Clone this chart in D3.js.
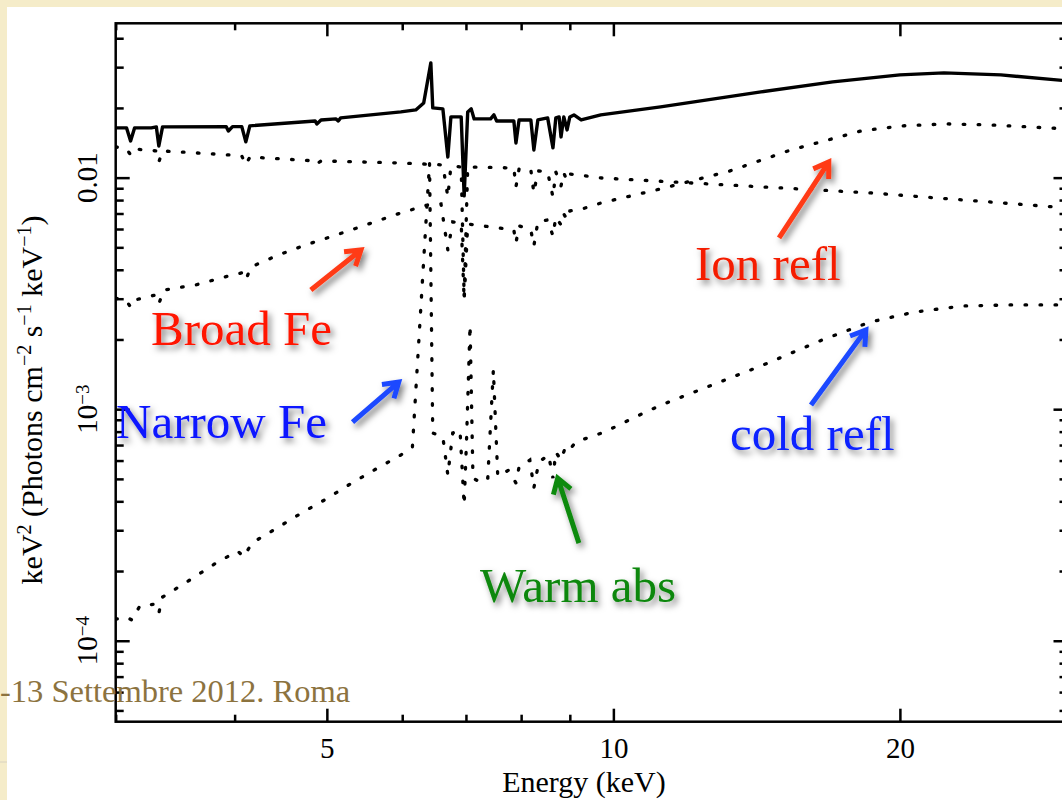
<!DOCTYPE html>
<html>
<head>
<meta charset="utf-8">
<script src="https://cdn.jsdelivr.net/npm/d3@7"></script>
<style>
body { margin: 0; background: #f5ecc9; }
svg { display: block; font-family: "Liberation Serif", "Times New Roman", serif; }
</style>
</head>
<body>
<div id="chart"></div>
<script>
// model components, [energy keV, keV^2 photons cm^-2 s^-1 keV^-1]
const totalModel = [[3.00,0.0164],[3.08,0.0164],[3.11,0.0144],[3.14,0.0164],[3.27,0.0164],[3.31,0.01656],[3.33,0.0137],[3.36,0.01656],
  [3.92,0.0166],[3.94,0.0159],[3.98,0.0166],[4.07,0.0166],[4.11,0.01427],[4.15,0.01673],[4.86,0.01757],[4.88,0.01706],[4.93,0.01775],
  [5.11,0.01793],[5.14,0.01757],[5.17,0.01811],[5.98,0.01922],[6.20,0.01961],[6.32,0.02102],[6.43,0.0313],[6.46,0.0200],[6.62,0.01981],
  [6.70,0.01228],[6.75,0.01829],[6.92,0.01829],[6.97,0.00834],[7.03,0.01922],[7.09,0.01981],[7.14,0.01793],[7.43,0.01793],[7.49,0.01866],
  [7.54,0.01757],[7.86,0.01757],[7.90,0.01412],[7.96,0.01775],[8.19,0.01775],[8.25,0.01317],[8.33,0.01775],[8.53,0.01811],[8.64,0.01344],
  [8.70,0.01811],[8.77,0.01829],[8.81,0.01499],[8.87,0.01829],[8.94,0.01607],[9.00,0.01829],[9.09,0.01866],[9.25,0.01775],[9.70,0.01866],
  [11.21,0.0202],[14.29,0.02346],[17.0,0.0259],[20.0,0.02778],[22.25,0.02835],[25.53,0.02778],[30.0,0.02617]];

const powerLaw = [[3.00,0.01357],[3.08,0.0133],[3.11,0.01254],[3.14,0.0133],[3.31,0.01304],[3.33,0.01169],[3.36,0.01304],[3.94,0.01254],
  [4.07,0.01241],[4.11,0.01135],[4.15,0.01228],[4.86,0.01181],[4.88,0.01146],[4.93,0.01181],[5.98,0.01157],[6.62,0.01135],[6.70,0.00825],
  [6.75,0.01123],[6.92,0.01112],[6.97,0.00305],[7.03,0.01112],[7.86,0.01101],[7.90,0.00912],[7.96,0.0109],[8.19,0.0108],[8.25,0.00859],
  [8.33,0.01069],[8.53,0.01058],[8.64,0.00825],[8.70,0.01058],[8.81,0.0092],[8.87,0.01048],[8.94,0.00968],[9.00,0.01037],[9.70,0.00997],
  [18.64,0.00859],[30.0,0.0074]];

const ionRefl = [[3.00,0.00302],[3.08,0.00293],[3.11,0.00276],[3.14,0.00296],[3.30,0.00311],[3.33,0.00285],[3.37,0.00327],[3.64,0.00344],
  [3.90,0.00372],[4.07,0.00388],[4.11,0.00361],[4.16,0.00411],[4.45,0.00464],[4.75,0.00512],[5.23,0.00583],[5.98,0.00704],[6.38,0.00762],
  [6.59,0.0077],[6.70,0.00487],[6.78,0.00644],[6.92,0.00637],[6.97,0.00296],[7.03,0.00631],[7.86,0.00594],[7.90,0.00522],[7.96,0.00619],
  [8.19,0.00594],[8.25,0.00507],[8.33,0.00644],[8.53,0.00657],[8.64,0.0056],[8.70,0.00676],[8.81,0.00625],[8.87,0.00697],[8.94,0.00657],
  [9.00,0.00718],[9.27,0.00732],[9.70,0.00777],[11.21,0.00894],[13.26,0.01069],[15.37,0.01317],[18.2,0.0159],[20.1,0.01673],
  [22.35,0.01706],[24.9,0.01689],[30.0,0.01623]];

const coldRefl = [[3.00,1.239e-4],[3.08,1.265e-4],[3.12,1.228e-4],[3.18,1.412e-4],[3.30,1.44e-4],[3.33,1.317e-4],[3.36,1.544e-4],
  [3.59,1.83e-4],[3.81,2.145e-4],[4.03,2.44e-4],[4.09,2.30e-4],[4.17,2.64e-4],[4.45,3.10e-4],[4.72,3.595e-4],[4.99,4.09e-4],[5.29,4.75e-4],
  [5.63,5.515e-4],[5.98,6.34e-4],[6.15,6.87e-4],[6.41,0.01157],[6.46,7.89e-4],[6.62,7.59e-4],[6.70,5.195e-4],[6.78,7.89e-4],[6.90,8.13e-4],
  [6.97,3.855e-4],[7.01,7.36e-4],[7.07,0.00231],[7.12,5.04e-4],[7.27,4.80e-4],[7.38,5.04e-4],[7.48,0.001476],[7.56,5.13e-4],[7.76,5.45e-4],
  [7.90,4.80e-4],[7.96,5.63e-4],[8.17,6.03e-4],[8.25,4.57e-4],[8.35,5.91e-4],[8.55,6.34e-4],[8.64,5.04e-4],[8.70,6.53e-4],[8.81,6.03e-4],
  [8.89,6.73e-4],[8.96,6.53e-4],[9.13,7.22e-4],[9.79,7.97e-4],[10.49,9.16e-4],[11.22,0.001042],[14.29,0.001537],[16.57,0.00199],
  [18.62,0.00238],[20.74,0.00263],[23.32,0.00279],[26.10,0.00282],[30.0,0.00282]];

// ticks
const xMajorTicks = [5, 10, 20];
const xMinorTicks = [3, 4, 6, 7, 8, 9, 30];
const yMajorTicks = [1e-4, 1e-3, 1e-2];
const yMinorTicks = [5e-5, 6e-5, 7e-5, 8e-5, 9e-5, 2e-4, 3e-4, 4e-4, 5e-4, 6e-4, 7e-4, 8e-4, 9e-4,
  2e-3, 3e-3, 4e-3, 5e-3, 6e-3, 7e-3, 8e-3, 9e-3, 0.02, 0.03, 0.04];
const yTickBase = ["10", "10", "0.01"];
const yTickExp = ["\u22124", "\u22123", ""];

// annotations: label, colour, arrow tail / tip in data coords
const labelText = ["Broad Fe", "Narrow Fe", "Ion refl", "cold refl", "Warm abs"];
const labelColor = ["#ff1200", "#0a14ff", "#f41e00", "#0a22ff", "#0b870b"];
const arrowColor = ["#ff3a17", "#1d49ff", "#ff3a17", "#1d49ff", "#0f8a10"];
const arrowTail = [[4.81,0.00327],[5.32,8.8e-4],[14.93,0.00549],[16.13,1.042e-3],[9.20,2.64e-4]];
const arrowTip = [[5.43,0.00487],[5.95,1.31e-3],[16.84,0.01169],[18.42,2.20e-3],[8.74,5.04e-4]];
const labelPos = [[151,345],[116,438],[695,280],[730,450],[480,602]];

const width = 1062, height = 800;
const frame = { left: 115.7, right: 1067.5, top: 23.3, bottom: 721.7 };

const x = d3.scaleLog().domain([3, 30]).range([frame.left, frame.right]);
const y = d3.scaleLog().domain([4.47e-5, 0.0464]).range([frame.bottom, frame.top]);

const svg = d3.select("#chart").append("svg")
    .attr("width", width)
    .attr("height", height);

const defs = svg.append("defs");
defs.append("clipPath").attr("id", "plot-clip")
  .append("rect")
    .attr("x", frame.left).attr("y", frame.top)
    .attr("width", frame.right - frame.left)
    .attr("height", frame.bottom - frame.top);
defs.append("filter").attr("id", "shadow")
    .attr("x", "-20%").attr("y", "-20%").attr("width", "150%").attr("height", "160%")
  .append("feDropShadow")
    .attr("dx", 3).attr("dy", 4)
    .attr("stdDeviation", 3)
    .attr("flood-color", "#000")
    .attr("flood-opacity", 0.5);

// slide background
svg.append("rect").attr("width", width).attr("height", height).attr("fill", "#f5ecc9");
svg.append("rect").attr("x", 7).attr("y", 7).attr("width", width).attr("height", height).attr("fill", "#fff");
svg.append("line").attr("x1", 0).attr("x2", 7).attr("y1", 762).attr("y2", 762)
    .attr("stroke", "#d8d2c0").attr("stroke-width", 1);

// axes
function styleAxis(g) {
  g.attr("font-family", null).attr("font-size", null);
  g.select(".domain").remove();
  g.selectAll(".tick line").attr("stroke", "#000").attr("stroke-width", 2.5);
  g.selectAll(".tick text").attr("fill", "#000").style("font-size", "29px");
}

svg.append("g")
    .attr("transform", `translate(0, ${frame.bottom})`)
    .call(d3.axisBottom(x).tickValues(xMajorTicks).tickSizeInner(-13).tickSizeOuter(0)
      .tickPadding(16).tickFormat(d3.format("d")))
    .call(styleAxis);
svg.append("g")
    .attr("transform", `translate(0, ${frame.bottom})`)
    .call(d3.axisBottom(x).tickValues(xMinorTicks).tickSizeInner(-7).tickSizeOuter(0).tickFormat(""))
    .call(styleAxis);
svg.append("g")
    .attr("transform", `translate(0, ${frame.top})`)
    .call(d3.axisTop(x).tickValues(xMajorTicks).tickSizeInner(-13).tickSizeOuter(0).tickFormat(""))
    .call(styleAxis);
svg.append("g")
    .attr("transform", `translate(0, ${frame.top})`)
    .call(d3.axisTop(x).tickValues(xMinorTicks).tickSizeInner(-7).tickSizeOuter(0).tickFormat(""))
    .call(styleAxis);
svg.append("g")
    .attr("transform", `translate(${frame.left}, 0)`)
    .call(d3.axisLeft(y).tickValues(yMajorTicks).tickSizeInner(-14).tickSizeOuter(0).tickFormat(""))
    .call(styleAxis);
svg.append("g")
    .attr("transform", `translate(${frame.left}, 0)`)
    .call(d3.axisLeft(y).tickValues(yMinorTicks).tickSizeInner(-8).tickSizeOuter(0).tickFormat(""))
    .call(styleAxis);
svg.append("g")
    .attr("transform", `translate(${frame.right}, 0)`)
    .call(d3.axisRight(y).tickValues(yMajorTicks).tickSizeInner(-14).tickSizeOuter(0).tickFormat(""))
    .call(styleAxis);
svg.append("g")
    .attr("transform", `translate(${frame.right}, 0)`)
    .call(d3.axisRight(y).tickValues(yMinorTicks).tickSizeInner(-8).tickSizeOuter(0).tickFormat(""))
    .call(styleAxis);

// frame
svg.append("rect")
    .attr("x", frame.left).attr("y", frame.top)
    .attr("width", frame.right - frame.left)
    .attr("height", frame.bottom - frame.top)
    .attr("fill", "none")
    .attr("stroke", "#000")
    .attr("stroke-width", 2.5);

// rotated y tick labels
yMajorTicks.forEach((v, i) => {
  const t = svg.append("text")
      .attr("transform", `translate(97, ${y(v)}) rotate(-90)`)
      .attr("text-anchor", "middle")
      .style("font-size", "29px")
      .attr("fill", "#000");
  t.append("tspan").text(yTickBase[i]);
  if (yTickExp[i]) t.append("tspan").attr("dy", "-0.42em").style("font-size", "19px").text(yTickExp[i]);
});

// axis titles
svg.append("text")
    .attr("x", 584).attr("y", 792)
    .attr("text-anchor", "middle")
    .style("font-size", "30px")
    .text("Energy (keV)");

const yTitle = svg.append("text")
    .attr("transform", "translate(42, 400) rotate(-90)")
    .attr("text-anchor", "middle")
    .style("font-size", "30px");
[["keV", 0], ["2", 1], [" (Photons cm", 0], ["\u22122", 1], [" s", 0], ["\u22121", 1], [" keV", 0], ["\u22121", 1], [")", 0]]
  .forEach(([s, sup], i, arr) => {
    const prevSup = i > 0 && arr[i - 1][1];
    yTitle.append("tspan")
        .attr("dy", sup ? -11 : (prevSup ? 11 : 0))
        .style("font-size", sup ? "20px" : "30px")
        .text(s);
  });

// model curves
const line = d3.line()
    .x(d => x(d[0]))
    .y(d => y(d[1]));

const curves = svg.append("g").attr("clip-path", "url(#plot-clip)");

[powerLaw, ionRefl, coldRefl].forEach(comp => {
  curves.append("path")
      .datum(comp)
      .attr("d", line)
      .attr("fill", "none")
      .attr("stroke", "#000")
      .attr("stroke-width", 3.3)
      .attr("stroke-linecap", "round")
      .attr("stroke-dasharray", "1.6,13.4");
});

curves.append("path")
    .datum(totalModel)
    .attr("d", line)
    .attr("fill", "none")
    .attr("stroke", "#000")
    .attr("stroke-width", 3.4)
    .attr("stroke-linejoin", "round");

// date footer of the slide
svg.append("text")
    .attr("x", 0).attr("y", 702)
    .style("font-size", "32.5px")
    .attr("fill", "#8c733f")
    .text("-13 Settembre 2012. Roma");

// annotations
const notes = svg.append("g").attr("filter", "url(#shadow)");

labelText.forEach((label, i) => {
  const x0 = x(arrowTail[i][0]), y0 = y(arrowTail[i][1]);
  const x1 = x(arrowTip[i][0]), y1 = y(arrowTip[i][1]);
  const ang = Math.atan2(y1 - y0, x1 - x0);
  const head = 17, spread = Math.PI / 5.5;
  const a1 = [x1 - head * Math.cos(ang - spread), y1 - head * Math.sin(ang - spread)];
  const a2 = [x1 - head * Math.cos(ang + spread), y1 - head * Math.sin(ang + spread)];

  notes.append("path")
      .attr("d", `M${x0},${y0}L${x1},${y1}M${a1[0]},${a1[1]}L${x1},${y1}L${a2[0]},${a2[1]}`)
      .attr("fill", "none")
      .attr("stroke", arrowColor[i])
      .attr("stroke-width", 5)
      .attr("stroke-linejoin", "miter")
      .attr("stroke-miterlimit", 10);

  notes.append("text")
      .attr("x", labelPos[i][0]).attr("y", labelPos[i][1])
      .style("font-size", "49px")
      .attr("fill", labelColor[i])
      .text(label);
});
</script>
</body>
</html>
